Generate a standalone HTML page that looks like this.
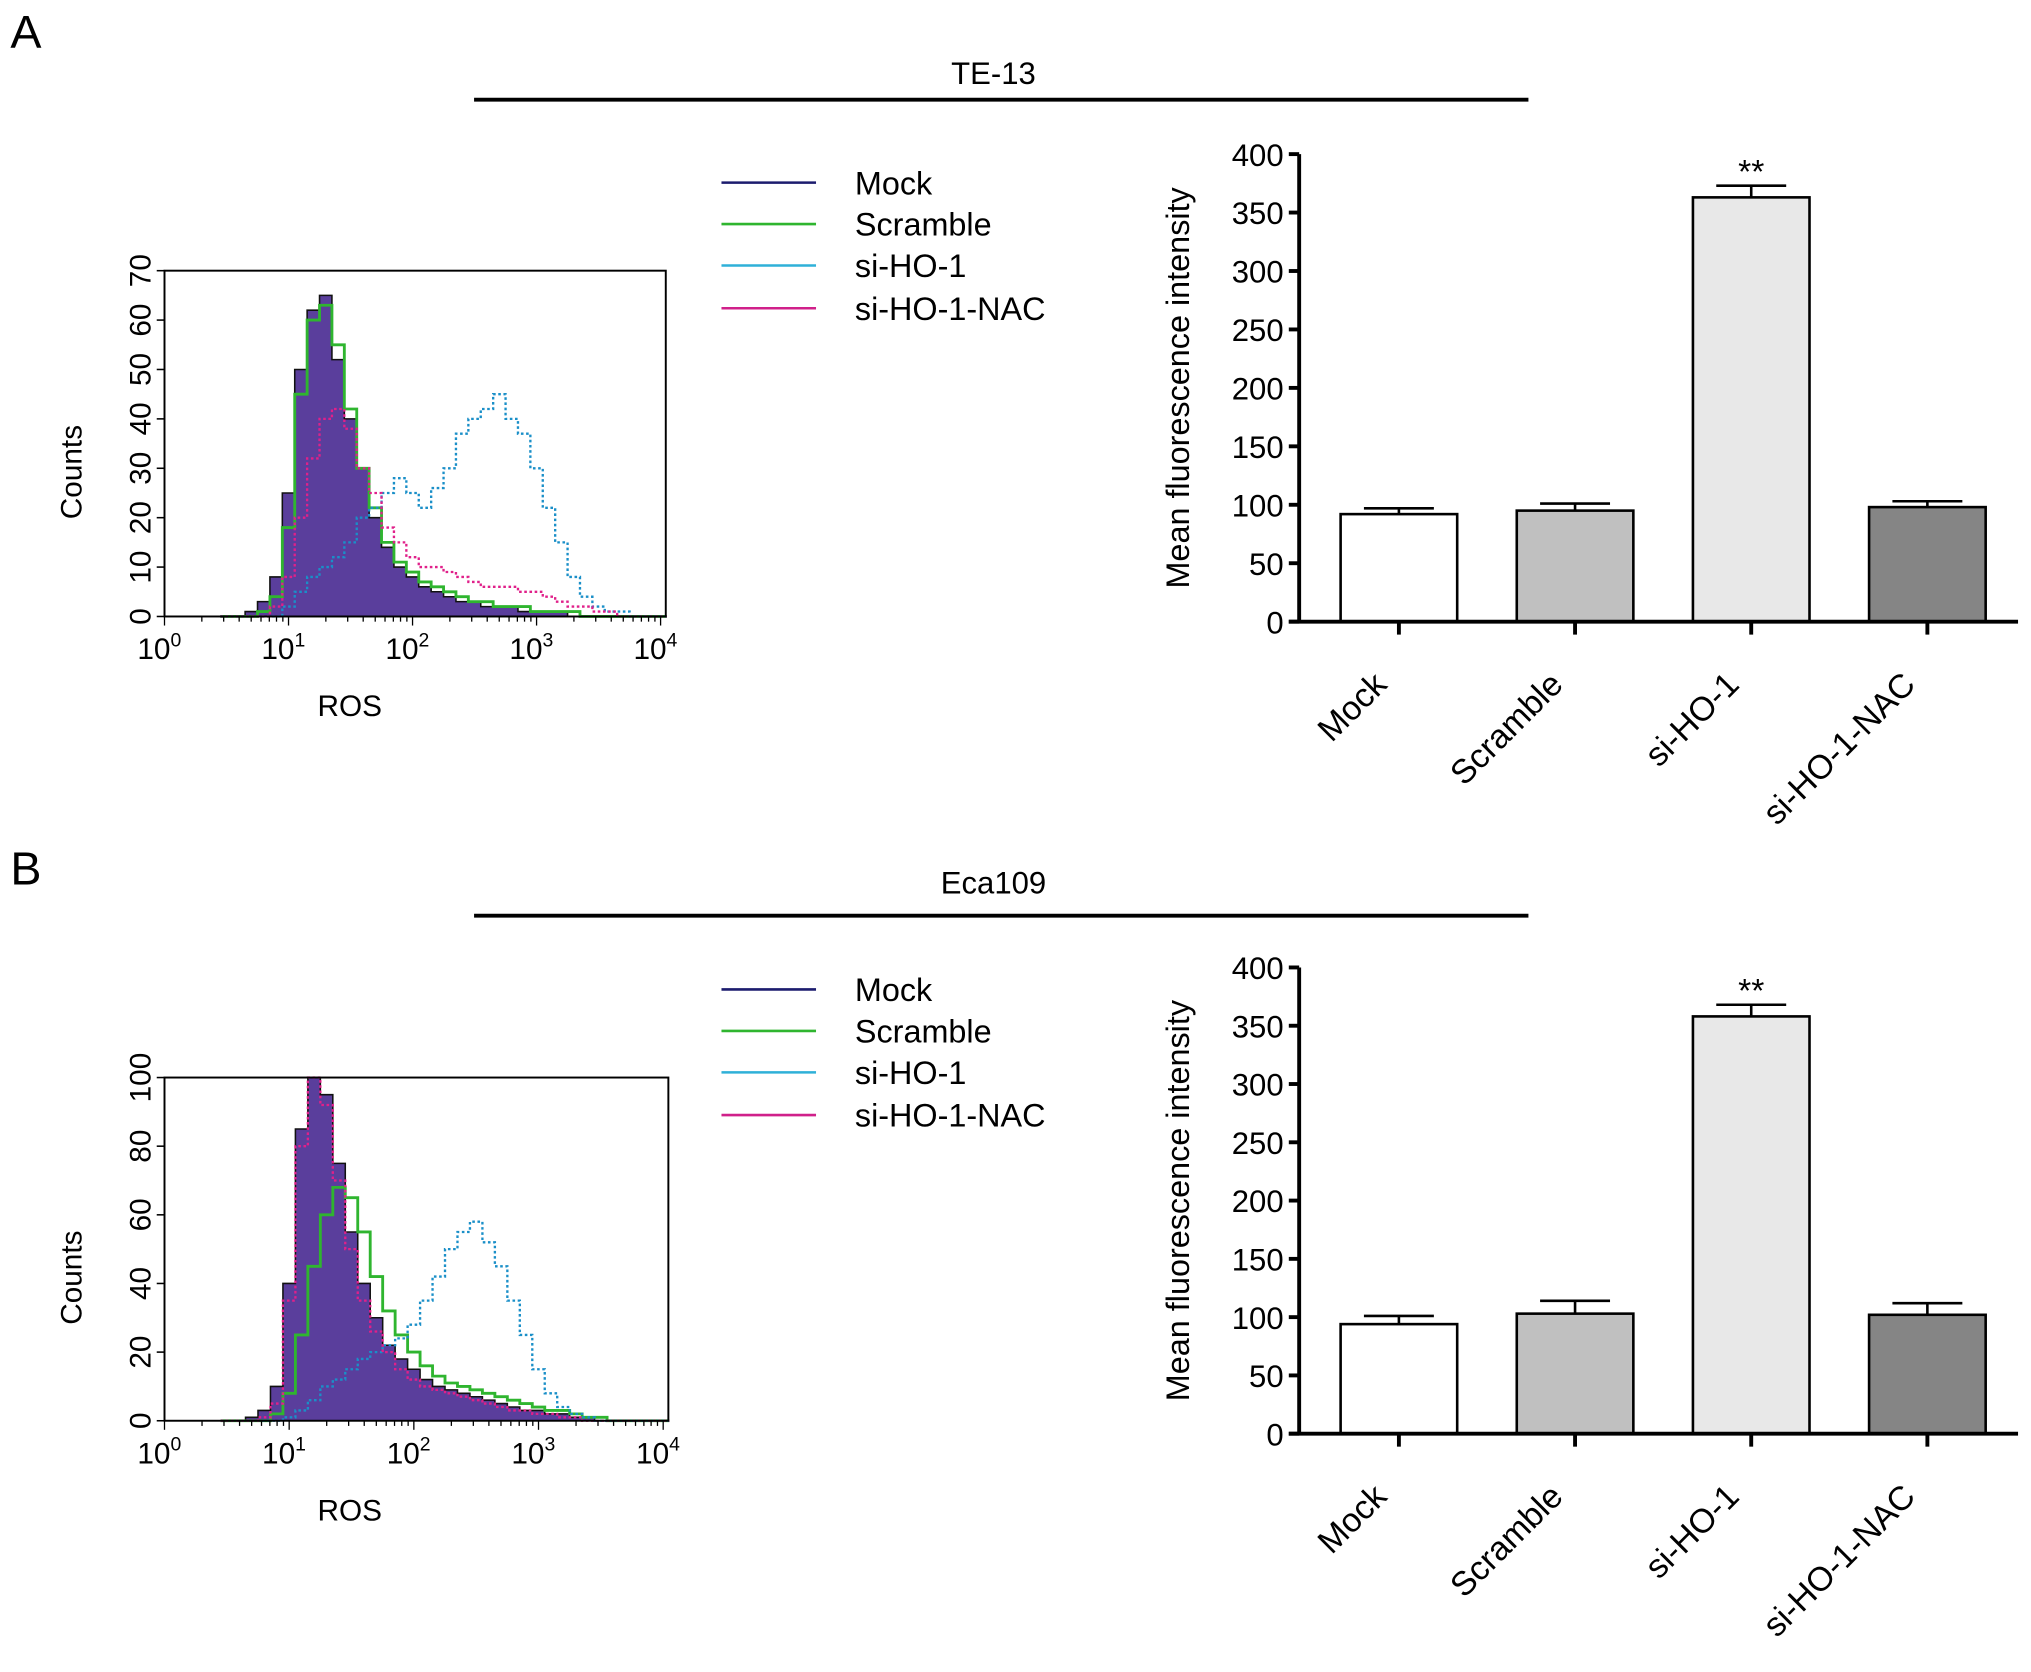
<!DOCTYPE html>
<html><head><meta charset="utf-8"><style>
html,body{margin:0;padding:0;background:#fff}
svg{display:block;font-family:"Liberation Sans",Arial,sans-serif}
</style></head><body>
<svg id="fig" width="2031" height="1672" viewBox="0 0 1568 1291" preserveAspectRatio="none" xmlns="http://www.w3.org/2000/svg"></svg>
<script>
const histLogBins=[0.5,0.6,0.7,0.8,0.9,1.0,1.1,1.2,1.3,1.4,1.5,1.6,1.7,1.8,1.9,2.0,2.1,2.2,2.3,2.4,2.5,2.6,2.7,2.8,2.9,3.0,3.1,3.2,3.3,3.4,3.5,3.6,3.7,3.8,3.9,4.0];
const aMock=[0,0,1,3,8,25,50,62,65,52,40,30,20,14,10,8,6,5,4,3,3,2,2,2,1,1,1,1,0,0,0,0,0,0,0,0];
const aScr=[0,0,0,1,4,18,45,60,63,55,42,30,22,15,11,9,7,6,5,4,3,3,2,2,2,1,1,1,1,0,0,0,0,0,0,0];
const aSi=[0,0,0,0,0,2,5,8,10,12,15,20,22,25,28,25,22,26,30,37,40,42,45,40,37,30,22,15,8,4,2,1,1,0,0,0];
const aNac=[0,0,0,0,2,8,20,32,40,42,38,30,25,18,15,12,10,10,9,8,7,6,6,6,5,5,4,3,2,2,1,1,0,0,0,0];
const bMock=[0,0,1,3,10,40,85,100,95,75,55,40,30,22,18,15,12,10,9,8,7,6,5,4,3,3,2,2,1,1,0,0,0,0,0,0];
const bScr=[0,0,0,0,2,8,25,45,60,68,65,55,42,32,25,20,16,13,11,10,9,8,7,6,5,4,3,3,2,1,1,0,0,0,0,0];
const bSi=[0,0,0,0,0,1,3,6,10,12,15,18,20,22,24,28,35,42,50,55,58,52,45,35,25,15,8,4,2,1,0,0,0,0,0,0];
const bNac=[0,0,0,1,5,35,80,100,92,70,50,35,26,20,15,12,10,9,8,7,6,5,4,3,3,2,2,1,1,0,0,0,0,0,0,0];
const barCats=["Mock","Scramble","si-HO-1","si-HO-1-NAC"];
const aBarVals=[92,95,363,98];
const aBarErr=[5,6,10,5];
const bBarVals=[94,103,358,102];
const bBarErr=[7,11,10,10];
const barTicks=[0,50,100,150,200,250,300,350,400];
const aHistTicks=[0,10,20,30,40,50,60,70];
const bHistTicks=[0,20,40,60,80,100];
const legendNames=["Mock","Scramble","si-HO-1","si-HO-1-NAC"];

const NS="http://www.w3.org/2000/svg";
const svg=document.getElementById('fig');
function mk(tag,attrs,parent,text){const e=document.createElementNS(NS,tag);for(const k in attrs)e.setAttribute(k,attrs[k]);if(text!==undefined)e.textContent=text;(parent||svg).appendChild(e);return e;}

function panel(letter,title,cfg,hist,histTicks,hmax,bars,errs){
  const g=mk('g',{});
  
  
  let t=mk('text',{x:8,y:cfg.letterY,'font-size':36},g,letter);
  
  t=mk('text',{x:767,y:cfg.titleY,'font-size':24,'text-anchor':'middle'},g,title);
  
  let l=mk('line',{x1:366,x2:1180,y1:cfg.lineY,y2:cfg.lineY,stroke:'#000','stroke-width':3},g);
  
  const lc=['#1c1c6e','#2fb52f','#2fb0d8','#d0208a'];
  legendNames.forEach((n,i)=>{
    const le=mk('g',{},g);
    
    mk('line',{x1:557,x2:630,y1:cfg.legendY[i],y2:cfg.legendY[i],stroke:lc[i],'stroke-width':2},le);
    mk('text',{x:660,y:cfg.legendY[i]+9,'font-size':25},le,n);
  });
  const [L,R,T,B]=cfg.hbox;
  const hx=v=>L+v/4*(R-L-4);
  const hy=v=>B-v/hmax*(B-T);
  const hg=mk('g',{},g);
  
  function stepPts(arr){let p=[];arr.forEach((v,i)=>{const x0=hx(histLogBins[i]-0.05),x1=hx(histLogBins[i]+0.05);p.push(x0+','+hy(v),x1+','+hy(v));});return p;}
  const mp=stepPts(hist[0]);
  let f=mk('polygon',{points:[hx(0.45)+','+B,...mp,hx(4.0)+','+B].join(' '),fill:'#5a3e9c',stroke:'#111','stroke-width':1.2},hg);
  
  let p=mk('polyline',{points:stepPts(hist[1]).join(' '),fill:'none',stroke:'#2fb52f','stroke-width':2.2},hg);
  
  p=mk('polyline',{points:stepPts(hist[2]).join(' '),fill:'none',stroke:'#1a8fc8','stroke-width':1.8,'stroke-dasharray':'2 2'},hg);
  
  p=mk('polyline',{points:stepPts(hist[3]).join(' '),fill:'none',stroke:'#e0208a','stroke-width':1.8,'stroke-dasharray':'2 2'},hg);
  
  mk('rect',{x:L,y:T,width:R-L,height:B-T,fill:'none',stroke:'#000','stroke-width':1.5},hg);
  histTicks.forEach(v=>{
    mk('line',{x1:L-6,x2:L,y1:hy(v),y2:hy(v),stroke:'#000','stroke-width':1.2},hg);
    const tt=mk('text',{x:0,y:0,'font-size':23,'text-anchor':'middle',transform:`translate(${L-11},${hy(v)}) rotate(-90)`},hg,String(v));
    
  });
  for(let d=0;d<4;d++){for(let k=1;k<10;k++){const x=hx(d+Math.log10(k));mk('line',{x1:x,x2:x,y1:B,y2:B+(k===1?7:4),stroke:'#000','stroke-width':1},hg);}}
  mk('line',{x1:hx(4),x2:hx(4),y1:B,y2:B+7,stroke:'#000','stroke-width':1},hg);
  [0,1,2,3,4].forEach(d=>{
    const tt=mk('text',{x:hx(d)-4,y:B+33,'font-size':23,'text-anchor':'middle'},hg,'10');
    mk('tspan',{dy:-10,'font-size':15},tt,String(d));
    
  });
  t=mk('text',{x:270,y:B+77,'font-size':23,'text-anchor':'middle'},hg,'ROS');
  
  t=mk('text',{x:0,y:0,'font-size':23,'text-anchor':'middle',transform:`translate(63,${(T+B)/2+22}) rotate(-90)`},hg,'Counts');
  
  const bg=mk('g',{},g);
  
  const y0=cfg.barY0, y400=cfg.barY400;
  const by=v=>y0-v/400*(y0-y400);
  const ax=1003;
  const cx=[1080,1216,1352,1488];
  const fills=['#ffffff','#c0c0c0','#e8e8e8','#858585'];
  bars.forEach((v,i)=>{
    const r=mk('rect',{x:cx[i]-45,y:by(v),width:90,height:y0-by(v),fill:fills[i],stroke:'#000','stroke-width':2},bg);
    
    const e=mk('path',{d:`M${cx[i]},${by(v)} V${by(v+errs[i])} M${cx[i]-27},${by(v+errs[i])} H${cx[i]+27}`,stroke:'#000','stroke-width':2,fill:'none'},bg);
    
    mk('line',{x1:cx[i],x2:cx[i],y1:y0,y2:y0+10,stroke:'#000','stroke-width':3},bg);
    const lt=mk('text',{x:0,y:0,'font-size':26,'text-anchor':'end',transform:`translate(${cx[i]-8},${y0+50}) rotate(-45)`},bg,barCats[i]);
    
  });
  const mx=bars.indexOf(Math.max(...bars));
  t=mk('text',{x:cx[mx],y:by(bars[mx]+errs[mx])-2,'font-size':26,'text-anchor':'middle'},bg,'**');
  
  mk('line',{x1:ax,x2:ax,y1:y400,y2:y0,stroke:'#000','stroke-width':3},bg);
  mk('line',{x1:ax-8,x2:1558,y1:y0,y2:y0,stroke:'#000','stroke-width':3},bg);
  barTicks.forEach(v=>{
    mk('line',{x1:ax-8,x2:ax,y1:by(v),y2:by(v),stroke:'#000','stroke-width':3},bg);
    const tt=mk('text',{x:ax-12,y:by(v)+9,'font-size':24,'text-anchor':'end'},bg,String(v));
    
  });
  t=mk('text',{x:0,y:0,'font-size':25,'text-anchor':'middle',transform:`translate(918,${(y0+y400)/2}) rotate(-90)`},bg,'Mean fluorescence intensity');
  
}
panel('A','TE-13',{letterY:37,titleY:65,lineY:77,legendY:[141,173,205,238],hbox:[127,514,209,476],barY0:480,barY400:119},[aMock,aScr,aSi,aNac],aHistTicks,70,aBarVals,aBarErr);
panel('B','Eca109',{letterY:683,titleY:690,lineY:707,legendY:[764,796,828,861],hbox:[127,516,832,1097],barY0:1107,barY400:747},[bMock,bScr,bSi,bNac],bHistTicks,100,bBarVals,bBarErr);
</script>
</body></html>
